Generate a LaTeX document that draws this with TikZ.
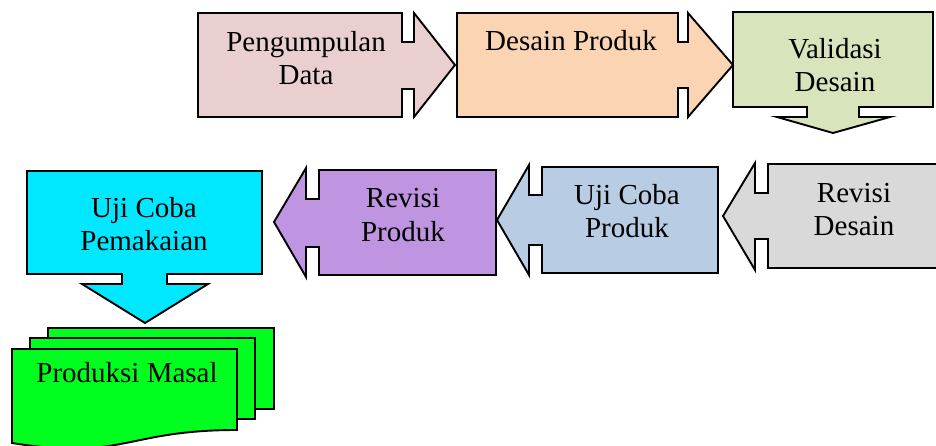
\documentclass[tikz,border=0pt]{standalone}
\usepackage{fontspec}
\setmainfont{Liberation Serif}
\definecolor{cPink}{HTML}{EACFD0}
\definecolor{cPeach}{HTML}{FBD4B4}
\definecolor{cOlive}{HTML}{D7E4BC}
\definecolor{cGray}{HTML}{D9D9D9}
\definecolor{cBlue}{HTML}{B8CCE4}
\definecolor{cPurple}{HTML}{BF94E0}
\definecolor{cCyan}{HTML}{00E8FF}
\definecolor{cGreen}{HTML}{00FF1E}
\tikzset{
  shapeline/.style={draw=black, line width=1.9pt, line join=miter},
  lbl/.style={anchor=base, align=center, inner sep=0pt, font=\fontsize{29}{33.5}\selectfont}
}
\begin{document}
\begin{tikzpicture}[x=1pt,y=-1pt]
\useasboundingbox (0,0) rectangle (936,446);
% Pengumpulan Data
\filldraw[shapeline, fill=cPink] (198,13) -- (402,13) -- (402,42) -- (414,42) -- (414,13) -- (455,65) -- (414,117) -- (414,89) -- (402,89) -- (402,117) -- (198,117) -- cycle;
% Desain Produk
\filldraw[shapeline, fill=cPeach] (457,13) -- (678,13) -- (678,42) -- (688,42) -- (688,13) -- (733,65) -- (688,117) -- (688,88) -- (678,88) -- (678,117) -- (457,117) -- cycle;
% Validasi Desain
\filldraw[shapeline, fill=cOlive] (733,12) -- (933,12) -- (933,107) -- (859,107) -- (859,117) -- (890,117) -- (833,133) -- (777,117) -- (807,117) -- (807,107) -- (733,107) -- cycle;
% Revisi Desain
\filldraw[shapeline, fill=cGray] (948,164) -- (768,164) -- (768,193) -- (755,193) -- (755,163) -- (723,216) -- (755,270) -- (755,239) -- (768,239) -- (768,268) -- (948,268) -- cycle;
% Uji Coba Produk
\filldraw[shapeline, fill=cBlue] (718,167) -- (542,167) -- (542,195) -- (529,195) -- (529,165) -- (497,220) -- (529,275) -- (529,245) -- (542,245) -- (542,273) -- (718,273) -- cycle;
% Revisi Produk
\filldraw[shapeline, fill=cPurple] (496,170) -- (319,170) -- (319,199) -- (306,199) -- (306,168) -- (274,222) -- (306,277) -- (306,247) -- (319,247) -- (319,275) -- (496,275) -- cycle;
% Uji Coba Pemakaian
\filldraw[shapeline, fill=cCyan] (27,171) -- (262,171) -- (262,274) -- (167,274) -- (167,284) -- (208,284) -- (145,323) -- (82,284) -- (122,284) -- (122,274) -- (27,274) -- cycle;
% Produksi Masal (multidocument)
\filldraw[shapeline, fill=cGreen] (48,328) rectangle (274,409);
\filldraw[shapeline, fill=cGreen] (30,338) rectangle (255,419);
\filldraw[shapeline, fill=cGreen] (12,349) -- (237,349) -- (237,430) .. controls (124.5,430) and (124.5,461) .. (12,443) -- cycle;
% labels (base anchor = baseline of last line)
\node[lbl] (t1) at (306,85) {Pengumpulan\\Data};
\node[lbl] (t2) at (571,51) {Desain Produk};
\node[lbl] (t3) at (835,92) {Validasi\\Desain};
\node[lbl] (t4) at (854,236) {Revisi\\Desain};
\node[lbl] (t5) at (627,238) {Uji Coba\\Produk};
\node[lbl] (t6) at (403,241) {Revisi\\Produk};
\node[lbl] (t7) at (144,251) {Uji Coba\\Pemakaian};
\node[lbl] (t8) at (127,382) {Produksi Masal};
\end{tikzpicture}
\end{document}
